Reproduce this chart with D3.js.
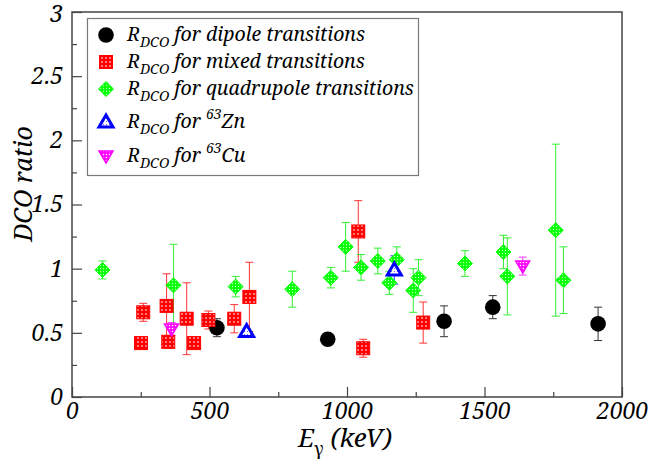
<!DOCTYPE html>
<html>
<head>
<meta charset="utf-8">
<script src="https://cdn.jsdelivr.net/npm/d3@7"></script>
<style>
  body { margin: 0; background: #fff; }
</style>
</head>
<body>
<svg width="649" height="461"></svg>
<script>
// Data: [E (keV), R_DCO, error]
const dipole = [
  [527, 0.54, 0.07], [930, 0.45, 0.04], [1353, 0.59, 0.12],
  [1530, 0.70, 0.09], [1913, 0.57, 0.13],
]
const mixed = [
  [251, 0.42, 0.03], [259, 0.66, 0.07], [344, 0.71, 0.25], [350, 0.43, 0.05],
  [417, 0.61, 0.28], [444, 0.42, 0.03], [496, 0.60, 0.07], [590, 0.61, 0.11],
  [645, 0.78, 0.27], [1041, 1.29, 0.24], [1059, 0.38, 0.07], [1277, 0.58, 0.16],
]
const quadrupole = [
  [111, 0.99, 0.07], [369, 0.87, 0.32], [595, 0.86, 0.08], [801, 0.84, 0.14],
  [941, 0.93, 0.08], [995, 1.17, 0.19], [1051, 1.01, 0.10], [1112, 1.06, 0.10],
  [1154, 0.89, 0.09], [1181, 1.07, 0.10], [1241, 0.83, 0.17], [1260, 0.93, 0.14],
  [1429, 1.04, 0.10], [1569, 1.13, 0.13], [1583, 0.94, 0.30], [1759, 1.30, 0.67],
  [1787, 0.91, 0.26],
]
const zn63 = [[635, 0.51, 0.02], [1172, 0.99, 0.11]]
const cu63 = [[362, 0.53, 0.05], [1639, 1.02, 0.07]]

const xTicks = [0, 500, 1000, 1500, 2000]
const yTicks = [0, 0.5, 1, 1.5, 2, 2.5, 3]
const yTickLabels = ['0', '0.5', '1', '1.5', '2', '2.5', '3']

const legendLabels = [
  {sub: 'DCO', rest: ' for dipole transitions'},
  {sub: 'DCO', rest: ' for mixed transitions'},
  {sub: 'DCO', rest: ' for quadrupole transitions'},
  {sub: 'DCO', rest: ' for ', sup: '63', nucl: 'Zn'},
  {sub: 'DCO', rest: ' for ', sup: '63', nucl: 'Cu'},
]

// Layout

const FONT = '"Noto Serif", "DejaVu Serif", serif'
const margin = {left: 72, right: 27, top: 12, bottom: 64}
const width = 649
const height = 461

const svg = d3.select('svg')
const defs = svg.append('defs')

function serif(sel, size) {
  return sel
      .style('font-family', FONT)
      .style('font-style', 'italic')
      .style('font-size', size + 'px')
      .attr('fill', '#000')
}

function dotPattern(id, bg, dot, size, r) {
  const p = defs.append('pattern')
      .attr('id', id)
      .attr('patternUnits', 'userSpaceOnUse')
      .attr('width', size)
      .attr('height', size)
  p.append('rect').attr('width', size).attr('height', size).attr('fill', bg)
  p.append('circle').attr('cx', size/2).attr('cy', size/2).attr('r', r).attr('fill', dot)
}
dotPattern('redDots', '#ff0000', '#ffb0b0', 4, 0.9)
dotPattern('greenDots', '#00ff00', '#b8ffb8', 3, 0.7)
dotPattern('blueDots', '#ffffff', '#5050ff', 3, 0.6)
dotPattern('magentaDots', '#ff00ff', '#ffffff', 3, 0.8)

const x = d3.scaleLinear()
    .domain([0, 2000])
    .range([margin.left, width - margin.right])

const y = d3.scaleLinear()
    .domain([0, 3])
    .range([height - margin.bottom, margin.top])

// Frame
svg.append('rect')
    .attr('x', x(0))
    .attr('y', y(3))
    .attr('width', x(2000) - x(0))
    .attr('height', y(0) - y(3))
    .attr('fill', 'none')
    .attr('stroke', '#444')
    .attr('stroke-width', 1.5)

// Axes, ticks inward
const xAxis = d3.axisBottom(x)
    .tickValues(xTicks)
    .tickSize(-10)
    .tickFormat(d3.format('d'))
const xMinor = d3.axisBottom(x)
    .tickValues([250, 750, 1250, 1750])
    .tickSize(-5)
    .tickFormat('')

const yAxis = d3.axisLeft(y)
    .tickValues(yTicks)
    .tickSize(-10)
    .tickFormat((d, i) => yTickLabels[i])
const yMinor = d3.axisLeft(y)
    .tickValues([0.25, 0.75, 1.25, 1.75, 2.25, 2.75])
    .tickSize(-5)
    .tickFormat('')

function styleAxis(g) {
  g.select('.domain').remove()
  g.selectAll('line').attr('stroke', '#444').attr('stroke-width', 1.2)
  serif(g.selectAll('text'), 23)
}

svg.append('g')
    .attr('transform', `translate(0,${y(0)})`)
    .call(xAxis)
    .call(styleAxis)
    .call(g => g.selectAll('text').attr('y', 0).attr('dy', 22))
svg.append('g')
    .attr('transform', `translate(0,${y(0)})`)
    .call(xMinor)
    .call(styleAxis)
svg.append('g')
    .attr('transform', `translate(${x(0)},0)`)
    .call(yAxis)
    .call(styleAxis)
    .call(g => g.selectAll('text').attr('x', -9).attr('dy', d => d == 3 ? '0.42em' : '0.32em'))
svg.append('g')
    .attr('transform', `translate(${x(0)},0)`)
    .call(yMinor)
    .call(styleAxis)

// Axis titles
const xTitle = svg.append('text')
    .attr('x', 345)
    .attr('y', 447)
    .attr('text-anchor', 'middle')
    .call(serif, 26)
xTitle.append('tspan').text('E')
xTitle.append('tspan').attr('dy', 8).style('font-size', '18px').style('font-style', 'normal').text('γ')
xTitle.append('tspan').attr('dy', -8).text(' (keV)')

svg.append('text')
    .attr('transform', `translate(32,${y(1.66)}) rotate(-90)`)
    .attr('text-anchor', 'middle')
    .call(serif, 25)
    .text('DCO ratio')

// Markers

const series = [
  {data: dipole, color: '#000', shape: 'circle'},
  {data: mixed, color: '#ff0000', shape: 'square'},
  {data: quadrupole, color: '#00ee00', shape: 'diamond'},
  {data: zn63, color: '#0000ff', shape: 'up'},
  {data: cu63, color: '#ff00ff', shape: 'down'},
]

function drawMarker(g, shape, cx, cy) {
  if (shape == 'circle') {
    g.append('circle').attr('cx', cx).attr('cy', cy).attr('r', 7.8).attr('fill', '#000')
  }
  else if (shape == 'square') {
    g.append('rect').attr('x', cx-6.5).attr('y', cy-6.5).attr('width', 13).attr('height', 13)
        .attr('fill', 'url(#redDots)').attr('stroke', '#ff0000').attr('stroke-width', 1)
  }
  else if (shape == 'diamond') {
    g.append('path').attr('d', `M${cx},${cy-7.5}L${cx+7.5},${cy}L${cx},${cy+7.5}L${cx-7.5},${cy}Z`)
        .attr('fill', 'url(#greenDots)').attr('stroke', '#00ff00').attr('stroke-width', 1)
  }
  else if (shape == 'up') {
    g.append('path').attr('d', `M${cx},${cy-7}L${cx+7},${cy+5}L${cx-7},${cy+5}Z`)
        .attr('fill', 'url(#blueDots)').attr('stroke', '#0000ff').attr('stroke-width', 3)
  }
  else if (shape == 'down') {
    g.append('path').attr('d', `M${cx},${cy+7}L${cx+7},${cy-5}L${cx-7},${cy-5}Z`)
        .attr('fill', 'url(#magentaDots)').attr('stroke', '#ff00ff').attr('stroke-width', 1.5)
  }
}

const plot = svg.append('g')

series.forEach(s => {
  const bars = plot.append('g')
      .attr('stroke', s.color)
      .attr('stroke-width', 1)
      .attr('opacity', 0.8)
  s.data.forEach(d => {
    const px = x(d[0])
    const top = y(d[1] + d[2])
    const bot = y(d[1] - d[2])
    bars.append('line').attr('x1', px).attr('x2', px).attr('y1', top).attr('y2', bot)
    bars.append('line').attr('x1', px-4).attr('x2', px+4).attr('y1', top).attr('y2', top)
    bars.append('line').attr('x1', px-4).attr('x2', px+4).attr('y1', bot).attr('y2', bot)
  })
})

series.forEach(s => {
  const g = plot.append('g')
  s.data.forEach(d => drawMarker(g, s.shape, x(d[0]), y(d[1])))
})

// Legend

const legend = svg.append('g')
legend.append('rect')
    .attr('x', 87.5)
    .attr('y', 18.5)
    .attr('width', 331)
    .attr('height', 157)
    .attr('fill', '#fff')
    .attr('stroke', '#777')
    .attr('stroke-width', 1.2)

const legendY = [35, 62, 89, 122, 156]

legendLabels.forEach((l, i) => {
  const ly = legendY[i]
  drawMarker(legend, series[i].shape, 106, ly)
  const t = legend.append('text')
      .attr('x', 127)
      .attr('y', ly + 6)
      .call(serif, 19.5)
  t.append('tspan').text('R')
  t.append('tspan').attr('dy', 6).style('font-size', '14px').text(l.sub)
  t.append('tspan').attr('dy', -6).text(l.rest)
  if (l.sup) {
    t.append('tspan').attr('dy', -9).style('font-size', '14px').text(l.sup)
    t.append('tspan').attr('dy', 9).text(l.nucl)
  }
})
</script>
</body>
</html>
